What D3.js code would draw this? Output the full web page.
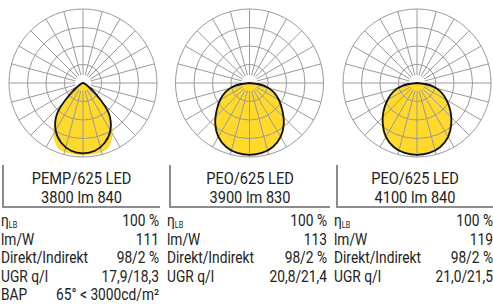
<!DOCTYPE html>
<html>
<head>
<meta charset="utf-8">
<script src="https://cdn.jsdelivr.net/npm/d3@7"></script>
<style>
  body { margin: 0; background: #fff; }
  text { font-family: Roboto, sans-serif; fill: #222; }
</style>
</head>
<body>
<svg width="493" height="304"></svg>
<script>
// angles from nadir (deg), one half of a symmetric curve
const angles = [0, 10, 20, 30, 40, 50, 60, 70, 80, 90]

// relative intensities (share of the outer ring)
const curveA1 = [0.95, 0.93, 0.86, 0.74, 0.55, 0.22, 0.06, 0.02, 0.01, 0]
const curveB1 = [0.97, 0.97, 0.95, 0.80, 0.53, 0.22, 0.06, 0.02, 0.01, 0]
const curveA2 = [0.97, 0.96, 0.92, 0.84, 0.72, 0.58, 0.46, 0.34, 0.19, 0]
const curveB2 = [0.97, 0.96, 0.93, 0.86, 0.74, 0.60, 0.47, 0.34, 0.19, 0]
const curveA3 = [0.97, 0.96, 0.92, 0.84, 0.72, 0.59, 0.46, 0.34, 0.19, 0]
const curveB3 = [0.97, 0.96, 0.93, 0.86, 0.74, 0.61, 0.47, 0.34, 0.19, 0]

const titles1 = ["PEMP/625 LED", "PEO/625 LED", "PEO/625 LED"]
const titles2 = ["3800 lm 840", "3900 lm 830", "4100 lm 840"]

const rowLabels = ["η", "lm/W", "Direkt/Indirekt", "UGR q/l", "BAP"]
const values1 = ["100 %", "111", "98/2 %", "17,9/18,3", "65° < 3000cd/m²"]
const values2 = ["100 %", "113", "98/2 %", "20,8/21,4"]
const values3 = ["100 %", "119", "98/2 %", "21,0/21,5"]

const panels = [
  {A: curveA1, B: curveB1, vals: values1, cx: 83, cy: 83, boxL: 3, boxR: 160, textL: 1, textR: 159},
  {A: curveA2, B: curveB2, vals: values2, cx: 249.5, cy: 83, boxL: 170, boxR: 330, textL: 167, textR: 327},
  {A: curveA3, B: curveB3, vals: values3, cx: 417, cy: 83, boxL: 337, boxR: 493, textL: 334, textR: 493}
]

const R = 74
const r = d3.scaleLinear().domain([0, 1]).range([0, R])
const sx = 0.86
const yellow = "#ffd92b"

const svg = d3.select("svg")

function fullCurve(vals) {
  // right side then left side, angle in lineRadial convention (0 = up)
  const pts = []
  for (let i = angles.length - 1; i >= 0; i--) pts.push([Math.PI - angles[i] * Math.PI / 180, vals[i]])
  for (let i = 1; i < angles.length; i++) pts.push([Math.PI + angles[i] * Math.PI / 180, vals[i]])
  return pts
}

const line = d3.lineRadial()
  .angle(d => d[0])
  .radius(d => r(d[1]))
  .curve(d3.curveCatmullRomClosed)

panels.forEach((p, k) => {
  const g = svg.append("g").attr("transform", `translate(${p.cx},${p.cy})`)

  g.append("path").attr("d", line(fullCurve(p.B))).attr("fill", yellow)
  g.append("path").attr("d", line(fullCurve(p.A))).attr("fill", yellow)

  // grid
  g.selectAll("circle.ring")
    .data([0.25, 0.5, 0.75, 1])
    .join("circle")
    .attr("class", "ring")
    .attr("r", d => r(d))
    .attr("fill", "none")
    .attr("stroke", "#9a9a9a")
    .attr("stroke-width", 1)

  g.selectAll("line.spoke")
    .data(d3.range(0, 360, 15))
    .join("line")
    .attr("class", "spoke")
    .attr("x1", d => 8 * Math.cos(d * Math.PI / 180))
    .attr("y1", d => 8 * Math.sin(d * Math.PI / 180))
    .attr("x2", d => R * Math.cos(d * Math.PI / 180))
    .attr("y2", d => R * Math.sin(d * Math.PI / 180))
    .attr("stroke", "#9a9a9a")
    .attr("stroke-width", 1)

  g.append("path")
    .attr("d", line(fullCurve(p.A)))
    .attr("fill", "none")
    .attr("stroke", "#111")
    .attr("stroke-width", 1.8)

  // title box
  svg.append("path")
    .attr("d", `M${p.boxL},165 V207 H${p.boxR}`)
    .attr("fill", "none")
    .attr("stroke", "#8c8c8c")
    .attr("stroke-width", 2)

  const mid = (p.boxL + p.boxR) / 2
  ;[titles1[k], titles2[k]].forEach((t, j) => {
    svg.append("g")
      .attr("transform", `translate(${mid},${184 + j * 19}) scale(${sx},1)`)
      .append("text")
      .attr("text-anchor", "middle")
      .attr("font-size", 17)
      .text(t)
  })

  // table
  p.vals.forEach((v, i) => {
    const y = 226 + i * 18.6
    const lab = svg.append("g")
      .attr("transform", `translate(${p.textL},${y}) scale(${sx},1)`)
      .append("text")
      .attr("font-size", 16)
      .text(rowLabels[i])
    if (i === 0) lab.append("tspan").attr("font-size", 8.5).attr("dy", 2).text("LB")
    svg.append("g")
      .attr("transform", `translate(${p.textR},${y}) scale(${sx},1)`)
      .append("text")
      .attr("text-anchor", "end")
      .attr("font-size", 16)
      .text(v)
  })
})
</script>
</body>
</html>
